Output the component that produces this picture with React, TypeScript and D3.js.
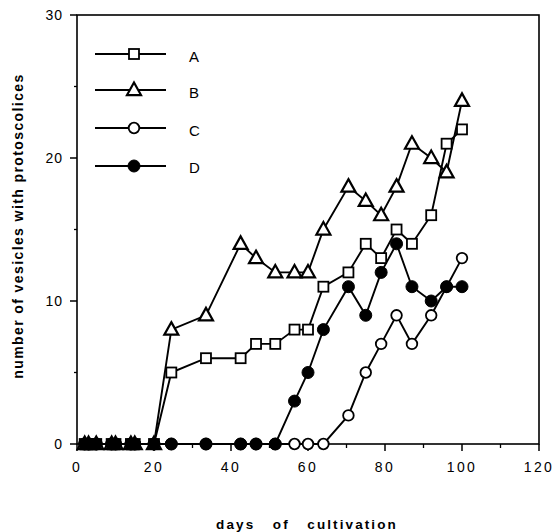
import React from "react";
import * as d3 from "d3";

const days = [2, 3, 5, 9, 10, 14, 15, 20, 24.5, 33.5, 42.5, 46.5, 51.5, 56.5, 60, 64, 70.5, 75, 79, 83, 87, 92, 96, 100];
const seriesA = [0, 0, 0, 0, 0, 0, 0, 0, 5, 6, 6, 7, 7, 8, 8, 11, 12, 14, 13, 15, 14, 16, 21, 22];
const seriesB = [0, 0, 0, 0, 0, 0, 0, 0, 8, 9, 14, 13, 12, 12, 12, 15, 18, 17, 16, 18, 21, 20, 19, 24];
const seriesC = [0, 0, 0, 0, 0, 0, 0, 0, 0, 0, 0, 0, 0, 0, 0, 0, 2, 5, 7, 9, 7, 9, 11, 13];
const seriesD = [0, 0, 0, 0, 0, 0, 0, 0, 0, 0, 0, 0, 0, 3, 5, 8, 11, 9, 12, 14, 11, 10, 11, 11];
const seriesNames = ["A", "B", "C", "D"];
const xTicks = [0, 20, 40, 60, 80, 100, 120];
const xMinor = [10, 30, 50, 70, 90, 110];
const yTicks = [0, 10, 20, 30];
const yMinor = [5, 15, 25];

const FONT = "'Liberation Sans', Arial, Helvetica, sans-serif";

type Shape = "square" | "triangle" | "circle" | "dot";
const shapes: Shape[] = ["square", "triangle", "circle", "dot"];

function Marker({ shape, x, y }: { shape: Shape; x: number; y: number }) {
  const sw = 1.8;
  if (shape === "square") {
    const s = 10;
    return <rect x={x - s / 2} y={y - s / 2} width={s} height={s} fill="#fff" stroke="#000" strokeWidth={sw} />;
  }
  if (shape === "triangle") {
    const h = 12, w = 14;
    const p = `${x},${y - h * 0.62} ${x + w / 2},${y + h * 0.42} ${x - w / 2},${y + h * 0.42}`;
    return <polygon points={p} fill="#fff" stroke="#000" strokeWidth={sw + 0.4} strokeLinejoin="miter" />;
  }
  if (shape === "circle") {
    return <circle cx={x} cy={y} r={5.3} fill="#fff" stroke="#000" strokeWidth={sw} />;
  }
  return <circle cx={x} cy={y} r={6} fill="#000" stroke="#000" strokeWidth={1} />;
}

export default function App() {
  const W = 554, H = 532;
  const x = d3.scaleLinear().domain([0, 120]).range([77, 539]);
  const y = d3.scaleLinear().domain([0, 30]).range([444, 15]);
  const all = [seriesA, seriesB, seriesC, seriesD];
  const line = d3
    .line<number>()
    .x((_, i) => x(days[i]))
    .y((v) => y(v));

  const legendY = [54, 90, 128, 166];
  const legendTextY = [56, 92, 130, 167];

  return (
    <div style={{ position: "absolute", left: 0, top: 0 }}>
      <svg width={W} height={H} style={{ display: "block", background: "#fff" }}>
        {/* frame */}
        <rect x={x(0)} y={y(30)} width={x(120) - x(0)} height={y(0) - y(30)} fill="none" stroke="#000" strokeWidth={1.6} />
        {/* x ticks */}
        {xTicks.map((t) => (
          <g key={"xt" + t}>
            <line x1={x(t)} x2={x(t)} y1={y(0)} y2={y(0) + 7} stroke="#000" strokeWidth={1.5} />
            <text x={x(t)} y={y(0) + 28} textAnchor="middle" fontFamily={FONT} fontSize={14} letterSpacing={2.4} fill="#000">
              {t}
            </text>
          </g>
        ))}
        {xMinor.map((t) => (
          <line key={"xm" + t} x1={x(t)} x2={x(t)} y1={y(0)} y2={y(0) + 4} stroke="#000" strokeWidth={1.3} />
        ))}
        {/* y ticks */}
        {yTicks.map((t) => (
          <g key={"yt" + t}>
            <line x1={x(0) - 7} x2={x(0)} y1={y(t)} y2={y(t)} stroke="#000" strokeWidth={1.5} />
            <text x={x(0) - 14} y={y(t) + 5} textAnchor="end" fontFamily={FONT} fontSize={14} letterSpacing={1} fill="#000">
              {t}
            </text>
          </g>
        ))}
        {yMinor.map((t) => (
          <line key={"ym" + t} x1={x(0) - 3} x2={x(0)} y1={y(t)} y2={y(t)} stroke="#000" strokeWidth={1.3} />
        ))}
        {/* axis titles */}
        <text
          transform={`translate(23,226) rotate(-90)`}
          textAnchor="middle"
          fontFamily={FONT}
          fontSize={14}
          fontWeight="bold"
          letterSpacing={1.4}
          fill="#000"
        >
          number of vesicles with protoscolices
        </text>
        <text
          x={307}
          y={529}
          textAnchor="middle"
          fontFamily={FONT}
          fontSize={13.5}
          fontWeight="bold"
          letterSpacing={2.1}
          fill="#000"
          style={{ whiteSpace: "pre" }}
        >
          {"days   of   cultivation"}
        </text>
        {/* series lines */}
        {all.map((s, k) => (
          <path key={"l" + k} d={line(s) || ""} fill="none" stroke="#000" strokeWidth={1.9} />
        ))}
        {/* markers */}
        {all.map((s, k) => (
          <g key={"m" + k}>
            {s.map((v, i) => (
              <Marker key={i} shape={shapes[k]} x={x(days[i])} y={y(v)} />
            ))}
          </g>
        ))}
        {/* legend */}
        {seriesNames.map((n, k) => (
          <g key={"lg" + n}>
            <line x1={95} x2={166} y1={legendY[k]} y2={legendY[k]} stroke="#000" strokeWidth={1.8} />
            <Marker shape={shapes[k]} x={134} y={legendY[k]} />
            <text x={189} y={legendTextY[k] + 5.5} fontFamily={FONT} fontSize={15} fill="#000">
              {n}
            </text>
          </g>
        ))}
      </svg>
    </div>
  );
}
